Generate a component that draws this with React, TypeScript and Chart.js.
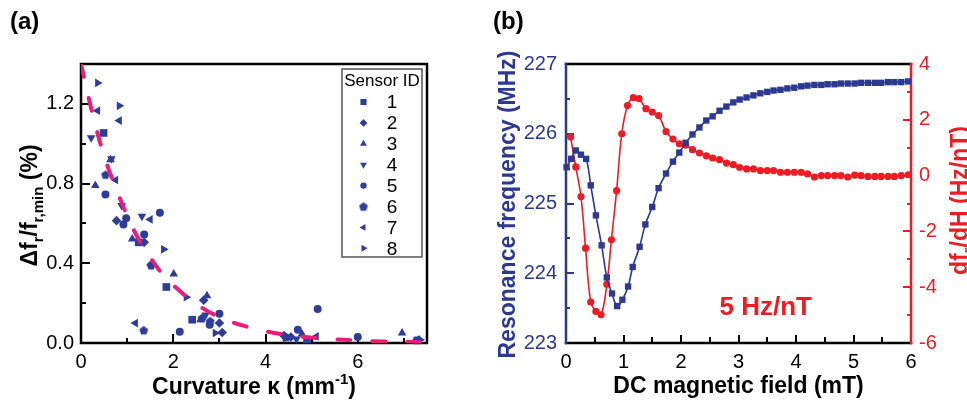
import React, { useEffect, useRef } from 'react';
import { Chart, registerables } from 'chart.js';

Chart.register(...registerables);

const FAMILY = "'Liberation Sans', Arial, Helvetica, sans-serif";
const PT_BLUE = '#2E3D98';
const NAVY = '#2B3990';
const RED = '#ED1C24';
const PINK = '#EC1C7A';

// ---------- Panel (a): curvature vs relative frequency shift ----------
const sensor1 = [[0.49, 1.054], [1.25, 0.505], [1.85, 0.281], [2.41, 0.117], [4.9, 0.017], [7.29, 0.013]];
const sensor2 = [[0.77, 0.614], [1.37, 0.505], [1.52, 0.393], [2.66, 0.215], [3.06, 0.053], [3.0, 0.1], [4.4, 0.037], [4.55, 0.03]];
const sensor3 = [[0.31, 0.79], [0.64, 0.92], [1.11, 0.522], [2.01, 0.346], [2.73, 0.237], [2.59, 0.117], [4.79, 0.045], [6.96, 0.05]];
const sensor4 = [[0.22, 1.03], [0.66, 0.925], [0.88, 0.69], [1.32, 0.636], [2.7, 0.14], [4.67, 0.02]];
const sensor5 = [[0.53, 0.745], [0.92, 0.594], [0.98, 0.626], [1.37, 0.544], [1.71, 0.653], [2.14, 0.057], [2.79, 0.092], [3.0, 0.147], [4.7, 0.067], [5.13, 0.171], [6.0, 0.03]];
const sensor6 = [[0.53, 0.845], [1.36, 0.064], [1.52, 0.39], [2.62, 0.125], [2.8, 0.11], [4.45, 0.03]];
const sensor7 = [[0.36, 1.166], [0.83, 1.116], [0.75, 0.818], [1.5, 0.62], [1.18, 0.1], [5.1, 0.033], [7.29, 0.017]];
const sensor8 = [[0.36, 1.305], [0.83, 1.19], [1.79, 0.47], [2.28, 0.23], [2.91, 0.05], [4.43, 0.025], [7.35, 0.016]];
const sensorNames = ['1', '2', '3', '4', '5', '6', '7', '8'];

const fitK = [0, 0.25, 0.5, 0.75, 1, 1.25, 1.5, 1.75, 2, 2.5, 3, 3.5, 4, 4.5, 5, 5.5, 6, 6.5, 7, 7.4];
const fitD = [1.4, 1.15, 0.94, 0.78, 0.64, 0.52, 0.43, 0.35, 0.29, 0.195, 0.13, 0.088, 0.059, 0.04, 0.027, 0.018, 0.012, 0.008, 0.006, 0.004];

const aXLabels = [0, 2, 4, 6];
const aYLabels = [0, 0.4, 0.8, 1.2];

// ---------- Panel (b): resonance frequency and derivative vs DC field ----------
const fieldF = [0.01, 0.09, 0.17, 0.26, 0.35, 0.43, 0.52, 0.62, 0.71, 0.8, 0.89, 0.98, 1.08, 1.16, 1.28, 1.38, 1.5, 1.61, 1.74, 1.86, 1.97, 2.08, 2.2, 2.32, 2.44, 2.55, 2.67, 2.79, 2.91, 3.02, 3.14, 3.26, 3.38, 3.5, 3.61, 3.73, 3.85, 3.97, 4.09, 4.2, 4.32, 4.44, 4.55, 4.67, 4.78, 4.9, 5.02, 5.13, 5.25, 5.37, 5.48, 5.6, 5.71, 5.83, 5.95];
const resFreq = [225.52, 225.64, 225.76, 225.7, 225.64, 225.26, 224.83, 224.4, 223.94, 223.71, 223.53, 223.62, 223.81, 224.09, 224.38, 224.7, 224.95, 225.22, 225.43, 225.6, 225.73, 225.87, 225.99, 226.09, 226.19, 226.25, 226.33, 226.39, 226.45, 226.49, 226.52, 226.55, 226.58, 226.6, 226.62, 226.63, 226.65, 226.66, 226.68, 226.69, 226.7, 226.7, 226.71, 226.71, 226.72, 226.72, 226.72, 226.73, 226.73, 226.73, 226.73, 226.74, 226.74, 226.74, 226.75];
const fieldD = [0.08, 0.17, 0.26, 0.34, 0.43, 0.52, 0.61, 0.71, 0.79, 0.88, 0.97, 1.07, 1.17, 1.27, 1.39, 1.5, 1.61, 1.74, 1.86, 1.97, 2.08, 2.2, 2.32, 2.44, 2.55, 2.67, 2.79, 2.91, 3.02, 3.14, 3.26, 3.38, 3.5, 3.61, 3.73, 3.85, 3.97, 4.09, 4.2, 4.32, 4.44, 4.55, 4.67, 4.78, 4.9, 5.02, 5.13, 5.25, 5.37, 5.48, 5.6, 5.71, 5.83, 5.95];
const dfdH = [1.38, 0.31, -0.75, -2.6, -4.53, -4.87, -4.99, -3.89, -2.3, -0.54, 1.5, 2.51, 2.8, 2.76, 2.4, 2.28, 2.15, 1.58, 1.31, 1.14, 1.09, 0.93, 0.81, 0.71, 0.63, 0.57, 0.45, 0.39, 0.29, 0.24, 0.24, 0.18, 0.18, 0.18, 0.12, 0.12, 0.12, 0.12, 0.06, -0.05, 0, 0, 0, 0, -0.05, 0.02, 0, -0.03, -0.03, -0.03, -0.03, -0.03, 0, 0.03];

const bXLabels = [0, 1, 2, 3, 4, 5, 6];
const bYLabels = [223, 224, 225, 226, 227];
const bY1Labels = [-6, -4, -2, 0, 2, 4];

// ---------- helpers ----------
const has = (list: number[], v: number) => list.some((l) => Math.abs(l - v) < 1e-6);

type Seg = { t: string; s?: 'sub' | 'sup' };

function drawRich(ctx: CanvasRenderingContext2D, segs: Seg[], x: number, y: number, size: number, color: string, rot: number) {
  ctx.save();
  ctx.translate(x, y);
  ctx.rotate(rot);
  const fontFor = (s?: string) => `bold ${s ? Math.round(size * 0.66) : size}px ${FAMILY}`;
  let total = 0;
  const widths = segs.map((g) => {
    ctx.font = fontFor(g.s);
    const w = ctx.measureText(g.t).width;
    total += w;
    return w;
  });
  let cx = -total / 2;
  ctx.fillStyle = color;
  ctx.textAlign = 'left';
  ctx.textBaseline = 'alphabetic';
  segs.forEach((g, i) => {
    ctx.font = fontFor(g.s);
    const dy = g.s === 'sub' ? size * 0.28 : g.s === 'sup' ? -size * 0.42 : 0;
    ctx.fillText(g.t, cx, dy);
    cx += widths[i];
  });
  ctx.restore();
}

function drawMarker(ctx: CanvasRenderingContext2D, style: any, x: number, y: number, r: number, rotDeg: number, color: string) {
  ctx.save();
  ctx.translate(x, y);
  ctx.rotate((rotDeg * Math.PI) / 180);
  ctx.fillStyle = color;
  if (style && typeof style !== 'string') {
    ctx.drawImage(style, -style.width / 2, -style.height / 2);
    ctx.restore();
    return;
  }
  ctx.beginPath();
  if (style === 'rect') {
    const s = Math.SQRT1_2 * r;
    ctx.rect(-s, -s, 2 * s, 2 * s);
  } else if (style === 'rectRot') {
    ctx.moveTo(0, -r);
    ctx.lineTo(r, 0);
    ctx.lineTo(0, r);
    ctx.lineTo(-r, 0);
    ctx.closePath();
  } else if (style === 'triangle') {
    for (let k = 0; k < 3; k++) {
      const a = (k * 2 * Math.PI) / 3;
      const px = Math.sin(a) * r;
      const py = -Math.cos(a) * r;
      if (k === 0) ctx.moveTo(px, py);
      else ctx.lineTo(px, py);
    }
    ctx.closePath();
  } else {
    ctx.arc(0, 0, r, 0, Math.PI * 2);
  }
  ctx.fill();
  ctx.restore();
}

function makePentagon(r: number, color: string) {
  const size = Math.ceil(r * 2) + 2;
  const c = document.createElement('canvas');
  c.width = size;
  c.height = size;
  const g = c.getContext('2d')!;
  g.fillStyle = color;
  g.beginPath();
  for (let i = 0; i < 5; i++) {
    const a = -Math.PI / 2 + (i * 2 * Math.PI) / 5;
    const px = size / 2 + r * Math.cos(a);
    const py = size / 2 + r * Math.sin(a) + r * 0.1;
    if (i === 0) g.moveTo(px, py);
    else g.lineTo(px, py);
  }
  g.closePath();
  g.fill();
  return c;
}

function drawTicks(ctx: CanvasRenderingContext2D, scale: any, side: string, majorLen: number, minorLen: number, color: string, area: any) {
  ctx.save();
  ctx.strokeStyle = color;
  ctx.lineWidth = 2;
  scale.ticks.forEach((t: any) => {
    const len = t.label !== '' ? majorLen : minorLen;
    const p = Math.round(scale.getPixelForValue(t.value));
    ctx.beginPath();
    if (side === 'bottom') {
      ctx.moveTo(p, area.bottom);
      ctx.lineTo(p, area.bottom - len);
    } else if (side === 'left') {
      ctx.moveTo(area.left, p);
      ctx.lineTo(area.left + len, p);
    } else {
      ctx.moveTo(area.right, p);
      ctx.lineTo(area.right - len, p);
    }
    ctx.stroke();
  });
  ctx.restore();
}

function line(ctx: CanvasRenderingContext2D, x1: number, y1: number, x2: number, y2: number, color: string, w: number) {
  ctx.save();
  ctx.strokeStyle = color;
  ctx.lineWidth = w;
  ctx.lineCap = 'square';
  ctx.beginPath();
  ctx.moveTo(x1, y1);
  ctx.lineTo(x2, y2);
  ctx.stroke();
  ctx.restore();
}

const tickFont = { family: FAMILY, size: 20 };

export default function App() {
  const refA = useRef<HTMLCanvasElement>(null);
  const refB = useRef<HTMLCanvasElement>(null);

  useEffect(() => {
    Chart.defaults.font.family = FAMILY;
    const pentagon = makePentagon(4.6, PT_BLUE);
    const sensorData = [sensor1, sensor2, sensor3, sensor4, sensor5, sensor6, sensor7, sensor8];
    const styles: any[] = ['rect', 'rectRot', 'triangle', 'triangle', 'circle', pentagon, 'triangle', 'triangle'];
    const rotations = [0, 0, 0, 180, 0, 0, -90, 90];
    const radii = [5.4, 4.8, 5, 5, 4, 4.6, 5, 5];

    const scatterSets = sensorData.map((d, i) => ({
      label: sensorNames[i],
      data: d.map(([x, y]) => ({ x, y })),
      showLine: false,
      pointStyle: styles[i],
      pointRotation: rotations[i],
      pointRadius: radii[i],
      pointBorderWidth: 0,
      pointBackgroundColor: PT_BLUE,
      backgroundColor: PT_BLUE,
      borderColor: PT_BLUE,
      clip: false as any,
      order: 1,
    }));

    const pluginA = {
      id: 'decorA',
      beforeDatasetsDraw(chart: any) {
        const { ctx, chartArea: a, scales } = chart;
        drawTicks(ctx, scales.x, 'bottom', 9, 5, '#000', a);
        drawTicks(ctx, scales.y, 'left', 9, 5, '#000', a);
        ctx.save();
        ctx.strokeStyle = '#000';
        ctx.lineWidth = 2.5;
        ctx.strokeRect(a.left, a.top, a.right - a.left, a.bottom - a.top);
        ctx.restore();
      },
      afterDraw(chart: any) {
        const { ctx, chartArea: a } = chart;
        // legend
        const bx = a.left + 261;
        const by = a.top + 5;
        ctx.save();
        ctx.fillStyle = '#fff';
        ctx.fillRect(bx, by, 80, 188);
        ctx.strokeStyle = '#555';
        ctx.lineWidth = 1.5;
        ctx.strokeRect(bx, by, 80, 188);
        ctx.fillStyle = '#000';
        ctx.font = `17px ${FAMILY}`;
        ctx.textAlign = 'center';
        ctx.textBaseline = 'middle';
        ctx.fillText('Sensor ID', bx + 40, by + 12);
        ctx.font = `19px ${FAMILY}`;
        for (let i = 0; i < 8; i++) {
          const ds = chart.data.datasets[i];
          const ry = by + 33 + i * 20.9;
          drawMarker(ctx, ds.pointStyle, bx + 21.5, ry, ds.pointRadius * 0.8, ds.pointRotation, PT_BLUE);
          ctx.fillStyle = '#000';
          ctx.fillText(ds.label, bx + 50, ry + 1);
        }
        ctx.restore();
        // titles
        drawRich(ctx, [{ t: 'Curvature κ (mm' }, { t: '-1', s: 'sup' }, { t: ')' }], (a.left + a.right) / 2, 394, 23, '#000', 0);
        drawRich(ctx, [{ t: 'Δf' }, { t: 'r', s: 'sub' }, { t: '/f' }, { t: 'r,min', s: 'sub' }, { t: ' (%)' }], 37, (a.top + a.bottom) / 2 + 2, 23, '#000', -Math.PI / 2);
        ctx.save();
        ctx.fillStyle = '#000';
        ctx.font = `bold 24px ${FAMILY}`;
        ctx.textAlign = 'left';
        ctx.textBaseline = 'alphabetic';
        ctx.fillText('(a)', 10, 29);
        ctx.restore();
      },
    };

    const chartA = new Chart(refA.current!, {
      type: 'scatter',
      data: {
        datasets: [
          ...scatterSets,
          {
            label: 'fit',
            data: fitK.map((x, i) => ({ x, y: fitD[i] })),
            showLine: true,
            pointRadius: 0,
            borderColor: PINK,
            borderWidth: 4,
            borderDash: [13, 22],
            borderCapStyle: 'round',
            tension: 0.4,
            order: 0,
          } as any,
        ],
      },
      options: {
        responsive: false,
        animation: false,
        devicePixelRatio: 1,
        events: [],
        layout: { padding: { top: 64, right: 56, left: 0, bottom: 0 } },
        plugins: { legend: { display: false }, tooltip: { enabled: false } },
        scales: {
          x: {
            type: 'linear',
            min: 0,
            max: 7.5,
            grid: { display: false, drawTicks: false },
            border: { display: false },
            ticks: {
              stepSize: 1,
              includeBounds: false,
              autoSkip: false,
              maxRotation: 0,
              padding: 7,
              color: '#000',
              font: tickFont,
              callback: (v: any) => (has(aXLabels, Number(v)) ? String(v) : ''),
            },
            afterFit: (s: any) => {
              s.height = 60;
            },
          },
          y: {
            type: 'linear',
            min: 0,
            max: 1.4,
            grid: { display: false, drawTicks: false },
            border: { display: false },
            ticks: {
              stepSize: 0.2,
              includeBounds: false,
              autoSkip: false,
              padding: 7,
              color: '#000',
              font: tickFont,
              callback: (v: any) => (has(aYLabels, Number(v)) ? Number(v).toFixed(1) : ''),
            },
            afterFit: (s: any) => {
              s.width = 81;
            },
          },
        },
      } as any,
      plugins: [pluginA],
    });

    const pluginB = {
      id: 'decorB',
      beforeDatasetsDraw(chart: any) {
        const { ctx, chartArea: a, scales } = chart;
        drawTicks(ctx, scales.x, 'bottom', 8, 6, '#000', a);
        drawTicks(ctx, scales.y, 'left', 8, 4, NAVY, a);
        drawTicks(ctx, scales.y1, 'right', 8, 4, RED, a);
        line(ctx, a.left, a.top, a.right, a.top, '#000', 2.5);
        line(ctx, a.left, a.bottom, a.right, a.bottom, '#000', 2.5);
        line(ctx, a.left, a.top, a.left, a.bottom, NAVY, 2.5);
        line(ctx, a.right, a.top, a.right, a.bottom, RED, 2.5);
      },
      afterDraw(chart: any) {
        const { ctx, chartArea: a, scales } = chart;
        drawRich(ctx, [{ t: 'DC magnetic field (mT)' }], (a.left + a.right) / 2, 393, 23, '#000', 0);
        drawRich(ctx, [{ t: 'Resonance frequency (MHz)' }], 32, (a.top + a.bottom) / 2 + 1, 23, NAVY, -Math.PI / 2);
        drawRich(ctx, [{ t: 'df' }, { t: 'r', s: 'sub' }, { t: '/dH (Hz/nT)' }], 484, (a.top + a.bottom) / 2 - 3, 23, RED, -Math.PI / 2);
        ctx.save();
        ctx.fillStyle = '#000';
        ctx.font = `bold 24px ${FAMILY}`;
        ctx.textAlign = 'left';
        ctx.textBaseline = 'alphabetic';
        ctx.fillText('(b)', 10, 29);
        ctx.fillStyle = RED;
        ctx.font = `bold 26px ${FAMILY}`;
        ctx.fillText('5 Hz/nT', scales.x.getPixelForValue(2.67), scales.y1.getPixelForValue(-5.0));
        ctx.restore();
      },
    };

    const chartB = new Chart(refB.current!, {
      type: 'line',
      data: {
        datasets: [
          {
            label: 'Resonance frequency',
            data: fieldF.map((x, i) => ({ x, y: resFreq[i] })),
            yAxisID: 'y',
            borderColor: NAVY,
            backgroundColor: NAVY,
            borderWidth: 1.6,
            pointStyle: 'rect',
            pointRadius: 4.5,
            pointBorderWidth: 0,
            tension: 0.4,
            clip: false as any,
          },
          {
            label: 'dfr/dH',
            data: fieldD.map((x, i) => ({ x, y: dfdH[i] })),
            yAxisID: 'y1',
            borderColor: RED,
            backgroundColor: RED,
            borderWidth: 1.6,
            pointStyle: 'circle',
            pointRadius: 3.6,
            pointBorderWidth: 0,
            tension: 0.4,
            clip: false as any,
          },
        ],
      },
      options: {
        responsive: false,
        animation: false,
        devicePixelRatio: 1,
        events: [],
        layout: { padding: { top: 64, right: 0, left: 0, bottom: 0 } },
        plugins: { legend: { display: false }, tooltip: { enabled: false } },
        scales: {
          x: {
            type: 'linear',
            min: 0,
            max: 6,
            grid: { display: false, drawTicks: false },
            border: { display: false },
            ticks: {
              stepSize: 0.5,
              autoSkip: false,
              maxRotation: 0,
              padding: 7,
              color: '#000',
              font: tickFont,
              callback: (v: any) => (has(bXLabels, Number(v)) ? String(v) : ''),
            },
            afterFit: (s: any) => {
              s.height = 60;
            },
          },
          y: {
            type: 'linear',
            position: 'left',
            min: 223,
            max: 227,
            grid: { display: false, drawTicks: false },
            border: { display: false },
            ticks: {
              stepSize: 0.5,
              autoSkip: false,
              padding: 9,
              color: NAVY,
              font: tickFont,
              callback: (v: any) => (has(bYLabels, Number(v)) ? String(v) : ''),
            },
            afterFit: (s: any) => {
              s.width = 83;
            },
          },
          y1: {
            type: 'linear',
            position: 'right',
            min: -6,
            max: 4,
            grid: { display: false, drawTicks: false },
            border: { display: false },
            ticks: {
              stepSize: 1,
              autoSkip: false,
              padding: 8,
              color: RED,
              font: tickFont,
              callback: (v: any) => (has(bY1Labels, Number(v)) ? String(v) : ''),
            },
            afterFit: (s: any) => {
              s.width = 56;
            },
          },
        },
      } as any,
      plugins: [pluginB],
    });

    return () => {
      chartA.destroy();
      chartB.destroy();
    };
  }, []);

  return (
    <div style={{ position: 'fixed', left: 0, top: 0, width: 967, height: 403, background: '#fff' }}>
      <canvas ref={refA} width={483} height={403} style={{ position: 'absolute', left: 0, top: 0 }} />
      <canvas ref={refB} width={484} height={403} style={{ position: 'absolute', left: 483, top: 0 }} />
    </div>
  );
}
